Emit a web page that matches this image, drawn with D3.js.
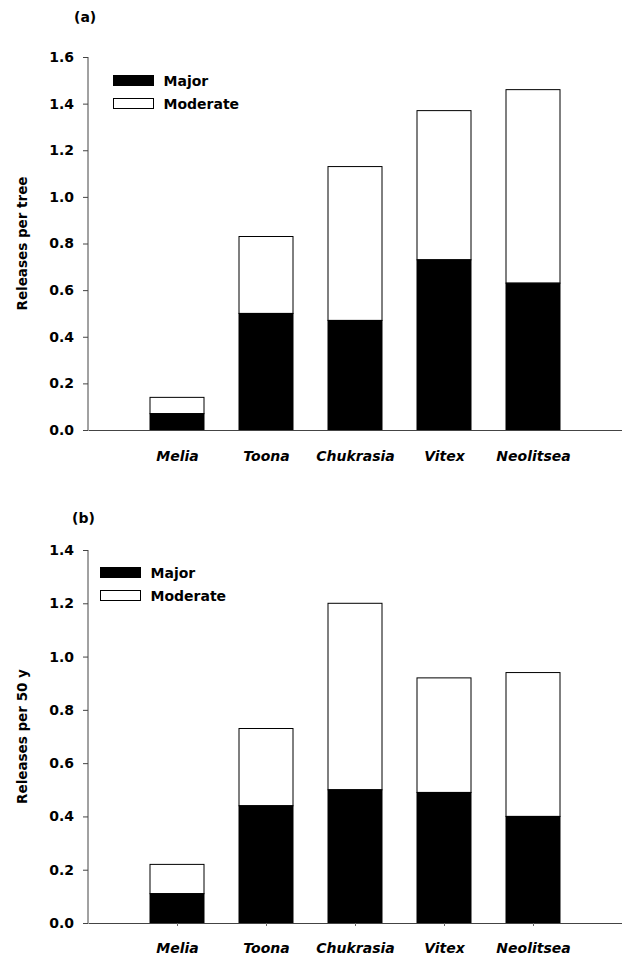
<!DOCTYPE html>
<html>
<head>
<meta charset="utf-8">
<script src="https://cdn.jsdelivr.net/npm/d3@7"></script>
<style>
body{margin:0;background:#fff;}
text{font-family:"DejaVu Sans",Arial,sans-serif;font-weight:bold;}
</style>
</head>
<body>
<svg id="c" width="622" height="958"></svg>
<script>
const categories = ["Melia","Toona","Chukrasia","Vitex","Neolitsea"];
const seriesNames = ["Major","Moderate"];
// panel (a): releases per tree
const majorA = [0.07,0.50,0.47,0.73,0.63];
const totalA = [0.14,0.83,1.13,1.37,1.46];
// panel (b): releases per 50 y
const majorB = [0.11,0.44,0.50,0.49,0.40];
const totalB = [0.22,0.73,1.20,0.92,0.94];
const ticksA = [0,0.2,0.4,0.6,0.8,1.0,1.2,1.4,1.6];
const ticksB = [0,0.2,0.4,0.6,0.8,1.0,1.2,1.4];

const svg = d3.select("#c");
const FONT = "DejaVu Sans, Arial, sans-serif";

function panel(cfg){
  const g = svg.append("g");
  const x = d3.scalePoint().domain(categories).range([88,622]).padding(1);
  const y = d3.scaleLinear().domain([0,cfg.max]).range([cfg.y0,cfg.y1]);
  const bw = 54;
  categories.forEach((c,i)=>{
    g.append("rect").attr("x",x(c)-bw/2).attr("width",bw)
      .attr("y",y(cfg.total[i])).attr("height",y(cfg.major[i])-y(cfg.total[i]))
      .attr("fill","#fff").attr("stroke","#000").attr("stroke-width",1);
    g.append("rect").attr("x",x(c)-bw/2).attr("width",bw)
      .attr("y",y(cfg.major[i])).attr("height",y(0)-y(cfg.major[i]))
      .attr("fill","#000").attr("stroke","#000").attr("stroke-width",1);
  });
  // y axis
  const ya = d3.axisLeft(y).tickValues(cfg.ticks).tickFormat(d3.format(".1f")).tickSize(5).tickPadding(9);
  const yg = g.append("g").attr("transform","translate(88,0)").call(ya);
  yg.select(".domain").attr("stroke","#444").attr("d",`M0,${cfg.y1}V${cfg.y0}`);
  yg.selectAll(".tick line").attr("stroke","#444");
  yg.selectAll("text").attr("font-size",14).attr("fill","#000").attr("font-family",FONT).attr("font-weight","bold");
  // x axis
  const xa = d3.axisBottom(x).tickSize(cfg.xtick).tickPadding(cfg.xpad).tickSizeOuter(0);
  const xg = g.append("g").attr("transform",`translate(0,${cfg.y0})`).call(xa);
  xg.select(".domain").attr("stroke","#444");
  xg.selectAll(".tick line").attr("stroke","#666");
  xg.selectAll("text").attr("font-size",14).attr("fill","#000").attr("font-style","italic").attr("font-family",FONT).attr("font-weight","bold");
  // y label
  g.append("text").attr("transform",`translate(${cfg.lx},${(cfg.y0+cfg.y1)/2}) rotate(-90)`)
    .attr("text-anchor","middle").attr("font-size",13.5).text(cfg.ylabel);
  // panel tag
  g.append("text").attr("x",cfg.tagX).attr("y",cfg.tagY).attr("font-size",14).text(cfg.tag);
  // legend
  seriesNames.forEach((s,i)=>{
    g.append("rect").attr("x",cfg.legX).attr("y",cfg.legY+i*23).attr("width",40).attr("height",10)
      .attr("fill",i===0?"#000":"#fff").attr("stroke","#000").attr("stroke-width",1);
    g.append("text").attr("x",cfg.legX+50).attr("y",cfg.legY+i*23+10.5).attr("font-size",14).text(s);
  });
}

panel({major:majorA,total:totalA,max:1.6,ticks:ticksA,y0:430,y1:57,xtick:0,xpad:21,
  ylabel:"Releases per tree",lx:27,tag:"(a)",tagX:74,tagY:22,legX:113.5,legY:75.5});
panel({major:majorB,total:totalB,max:1.4,ticks:ticksB,y0:923,y1:550,xtick:3,xpad:17,
  ylabel:"Releases per 50 y",lx:27,tag:"(b)",tagX:72,tagY:523,legX:100.5,legY:567.5});
</script>
</body>
</html>
